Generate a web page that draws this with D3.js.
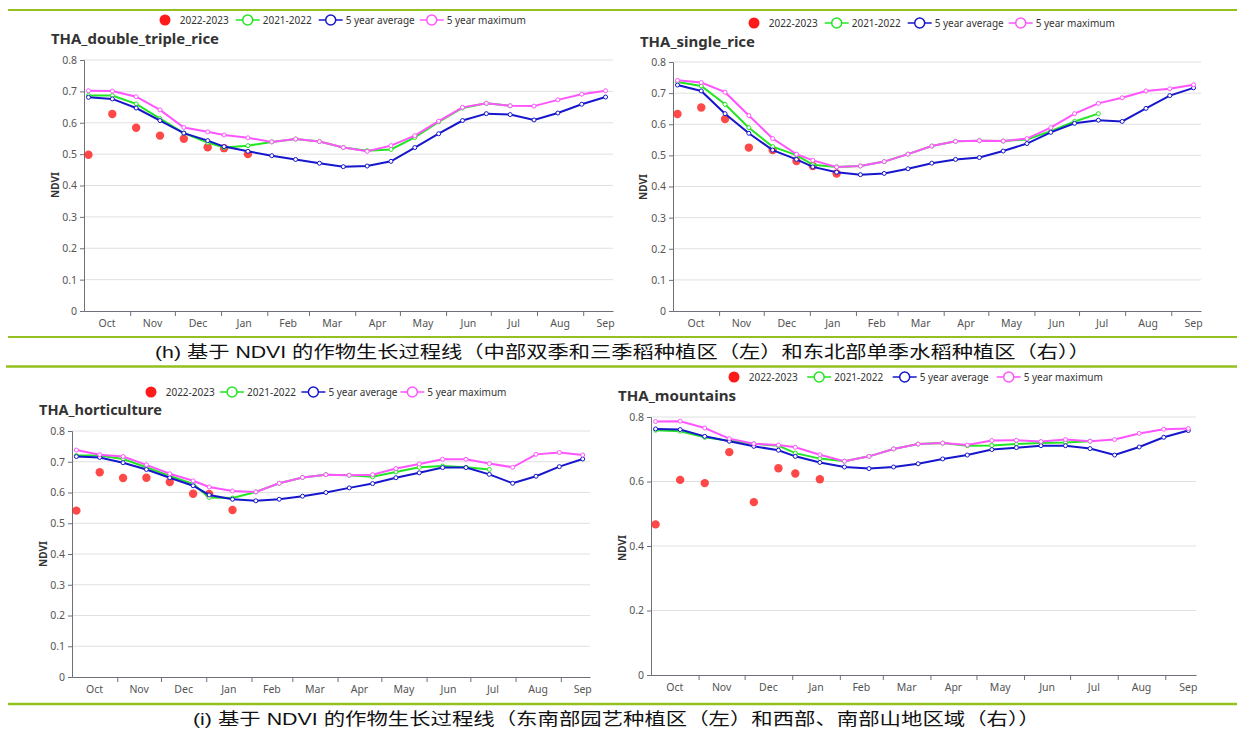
<!DOCTYPE html>
<html>
<head>
<meta charset="utf-8">
<script src="https://cdn.jsdelivr.net/npm/d3@7"></script>
<style>
  body { margin: 0; background: #fff; }
  svg { display: block; }
</style>
</head>
<body>
<div id="chart"></div>
<script>
// NDVI crop growth profiles, Thailand (4 zones)

const monthLabels = ["Oct", "Nov", "Dec", "Jan", "Feb", "Mar", "Apr", "May", "Jun", "Jul", "Aug", "Sep"];
const monthStarts = ["2022-10-01", "2022-11-01", "2022-12-01", "2023-01-01", "2023-02-01", "2023-03-01",
    "2023-04-01", "2023-05-01", "2023-06-01", "2023-07-01", "2023-08-01", "2023-09-01", "2023-10-01"];
const axisRange = ["2022-10-01", "2023-09-21"];

// 16-day composite dates
const dates = ["2022-10-04", "2022-10-20", "2022-11-05", "2022-11-21", "2022-12-07", "2022-12-23",
    "2023-01-03", "2023-01-19", "2023-02-04", "2023-02-20", "2023-03-08", "2023-03-24",
    "2023-04-09", "2023-04-25", "2023-05-11", "2023-05-27", "2023-06-12", "2023-06-28",
    "2023-07-14", "2023-07-30", "2023-08-15", "2023-08-31", "2023-09-16"];

const seriesNames = ["2022-2023", "2021-2022", "5 year average", "5 year maximum"];
const seriesColors = ["#ff1a1a", "#22e622", "#1616cc", "#ff55ff"];

// THA_double_triple_rice
const doubleCurrent = [0.498, 0.628, 0.584, 0.559, 0.549, 0.522, 0.519, 0.500];
const doublePrev = [0.687, 0.687, 0.660, 0.613, 0.567, 0.537, 0.521, 0.527, 0.539, 0.548, 0.540, 0.521,
    0.511, 0.515, 0.553, 0.603, 0.647, 0.662, 0.654];
const doubleAvg = [0.681, 0.676, 0.647, 0.607, 0.567, 0.543, 0.524, 0.509, 0.495, 0.483, 0.471, 0.460,
    0.462, 0.477, 0.521, 0.565, 0.607, 0.629, 0.626, 0.609, 0.631, 0.659, 0.682];
const doubleMax = [0.702, 0.701, 0.683, 0.641, 0.585, 0.571, 0.561, 0.552, 0.539, 0.548, 0.540, 0.521,
    0.509, 0.527, 0.559, 0.605, 0.649, 0.662, 0.654, 0.653, 0.673, 0.691, 0.702];

// THA_single_rice
const singleCurrent = [0.633, 0.654, 0.617, 0.525, 0.517, 0.482, 0.466, 0.442];
const singlePrev = [0.736, 0.723, 0.664, 0.589, 0.528, 0.501, 0.470, 0.463, 0.466, 0.480, 0.504, 0.530,
    0.545, 0.547, 0.546, 0.551, 0.578, 0.609, 0.634];
const singleAvg = [0.726, 0.707, 0.634, 0.571, 0.517, 0.487, 0.463, 0.446, 0.438, 0.442, 0.457, 0.475,
    0.487, 0.493, 0.514, 0.538, 0.574, 0.603, 0.613, 0.609, 0.651, 0.692, 0.717];
const singleMax = [0.741, 0.734, 0.703, 0.628, 0.554, 0.504, 0.484, 0.463, 0.466, 0.480, 0.504, 0.530,
    0.545, 0.547, 0.546, 0.554, 0.589, 0.634, 0.667, 0.685, 0.707, 0.714, 0.727];

// THA_horticulture
const hortiCurrent = [0.541, 0.666, 0.647, 0.648, 0.634, 0.596, 0.595, 0.543];
const hortiPrev = [0.720, 0.720, 0.709, 0.682, 0.654, 0.628, 0.584, 0.582, 0.602, 0.630, 0.649, 0.658,
    0.656, 0.651, 0.667, 0.682, 0.686, 0.682, 0.675];
const hortiAvg = [0.717, 0.714, 0.697, 0.675, 0.648, 0.622, 0.592, 0.578, 0.573, 0.578, 0.588, 0.600,
    0.615, 0.629, 0.648, 0.664, 0.681, 0.681, 0.659, 0.630, 0.653, 0.684, 0.709];
const hortiMax = [0.738, 0.723, 0.717, 0.690, 0.661, 0.638, 0.618, 0.605, 0.602, 0.630, 0.649, 0.658,
    0.656, 0.658, 0.678, 0.693, 0.708, 0.708, 0.694, 0.682, 0.724, 0.730, 0.722];

// THA_mountains
const mountCurrent = [0.467, 0.605, 0.595, 0.691, 0.536, 0.641, 0.625, 0.607];
const mountPrev = [0.759, 0.756, 0.737, 0.726, 0.717, 0.711, 0.688, 0.671, 0.663, 0.678, 0.701, 0.716,
    0.719, 0.711, 0.712, 0.716, 0.719, 0.721, 0.725];
const mountAvg = [0.763, 0.761, 0.740, 0.725, 0.709, 0.697, 0.678, 0.659, 0.645, 0.640, 0.645, 0.655,
    0.670, 0.682, 0.699, 0.705, 0.711, 0.711, 0.702, 0.682, 0.707, 0.737, 0.758];
const mountMax = [0.786, 0.787, 0.766, 0.733, 0.717, 0.713, 0.706, 0.683, 0.663, 0.678, 0.701, 0.716,
    0.719, 0.713, 0.727, 0.728, 0.724, 0.730, 0.725, 0.730, 0.749, 0.762, 0.764];

const ticksTenth = [0, 0.1, 0.2, 0.3, 0.4, 0.5, 0.6, 0.7, 0.8];
const ticksFifth = [0, 0.2, 0.4, 0.6, 0.8];

const captionTop = "(h) 基于 NDVI 的作物生长过程线（中部双季和三季稻种植区（左）和东北部单季水稻种植区（右））";
const captionBottom = "(i) 基于 NDVI 的作物生长过程线（东南部园艺种植区（左）和西部、南部山地区域（右））";

const W = 1237, H = 731;
const parse = d3.timeParse("%Y-%m-%d");
const font = "'Noto Sans', 'Open Sans', sans-serif";

const panels = [
    { title: "THA_double_triple_rice", values: [doubleCurrent, doublePrev, doubleAvg, doubleMax], yTicks: ticksTenth,
      left: 84, right: 613, top: 60, bottom: 311, titleX: 51, titleY: 38, titleW: 168,
      legendX: 165, legendY: 20, legendK: 1, nameX: 55, nameY: 185 },
    { title: "THA_single_rice", values: [singleCurrent, singlePrev, singleAvg, singleMax], yTicks: ticksTenth,
      left: 673, right: 1201, top: 62, bottom: 311, titleX: 640, titleY: 41, titleW: 115,
      legendX: 754, legendY: 23, legendK: 1, nameX: 643, nameY: 187 },
    { title: "THA_horticulture", values: [hortiCurrent, hortiPrev, hortiAvg, hortiMax], yTicks: ticksTenth,
      left: 72, right: 590, top: 431, bottom: 677, titleX: 39, titleY: 409, titleW: 123,
      legendX: 151, legendY: 392, legendK: 0.98, nameX: 43, nameY: 554 },
    { title: "THA_mountains", values: [mountCurrent, mountPrev, mountAvg, mountMax], yTicks: ticksFifth,
      left: 651, right: 1196, top: 417, bottom: 675, titleX: 618, titleY: 395, titleW: 118,
      legendX: 734, legendY: 377, legendK: 1.03, nameX: 622, nameY: 548 }
];

const svg = d3.select("#chart").append("svg")
    .attr("width", W)
    .attr("height", H)
    .style("background", "#fff");

// green separator rules
const ruleColor = "#94c11f";
[[8, 10, 2], [8, 337, 2], [6, 366.5, 2.5], [8, 704, 2.5]].forEach(([x0, yy, w]) => {
    svg.append("line")
        .attr("x1", x0).attr("x2", W)
        .attr("y1", yy).attr("y2", yy)
        .attr("stroke", ruleColor)
        .attr("stroke-width", w);
});

// captions
function caption(text, x0, x1, yy) {
    svg.append("text")
        .attr("x", x0)
        .attr("y", yy)
        .attr("dominant-baseline", "central")
        .attr("font-family", "'Liberation Sans', Arial, 'Noto Sans CJK SC', sans-serif")
        .attr("font-size", 17)
        .attr("fill", "#111")
        .attr("textLength", x1 - x0)
        .attr("lengthAdjust", "spacingAndGlyphs")
        .text(text);
}
caption(captionTop, 155, 1090, 352);
caption(captionBottom, 193, 1040, 719);

const legendOffsets = [0, 83, 166, 267];

function drawPanel(p) {
    const g = svg.append("g");

    const x = d3.scaleTime()
        .domain(axisRange.map(parse))
        .range([p.left, p.right]);
    const y = d3.scaleLinear()
        .domain([0, 0.8])
        .range([p.bottom, p.top]);

    // gridlines
    g.selectAll(".grid")
        .data(p.yTicks.filter(t => t > 0))
        .enter().append("line")
        .attr("x1", p.left).attr("x2", p.right)
        .attr("y1", d => y(d)).attr("y2", d => y(d))
        .attr("stroke", "#e0e0e0")
        .attr("stroke-width", 1);

    // y axis
    const yAxis = g.append("g")
        .attr("transform", `translate(${p.left},0)`)
        .call(d3.axisLeft(y)
            .tickValues(p.yTicks)
            .tickSize(4)
            .tickPadding(3)
            .tickFormat(d => d === 0 ? "0" : d3.format(".1f")(d)));
    yAxis.select(".domain").attr("stroke", "#6e7079");
    yAxis.selectAll(".tick line").attr("stroke", "#6e7079");
    yAxis.selectAll(".tick text")
        .attr("font-family", font)
        .attr("font-size", 10.5)
        .attr("fill", "#555");

    // x axis: ticks at month boundaries, labels mid-month
    const xAxis = g.append("g")
        .attr("transform", `translate(0,${p.bottom})`)
        .call(d3.axisBottom(x)
            .tickValues(monthStarts.slice(1, 12).map(parse))
            .tickSize(5)
            .tickSizeOuter(0)
            .tickFormat(""));
    xAxis.select(".domain").attr("stroke", "#6e7079");
    xAxis.selectAll(".tick line").attr("stroke", "#6e7079");

    g.selectAll(".month")
        .data(monthLabels)
        .enter().append("text")
        .attr("x", (d, i) => (x(parse(monthStarts[i])) + x(parse(monthStarts[i + 1]))) / 2)
        .attr("y", p.bottom + 12)
        .attr("text-anchor", "middle")
        .attr("dominant-baseline", "central")
        .attr("font-family", font)
        .attr("font-size", 10.5)
        .attr("fill", "#555")
        .text(d => d);

    // axis name
    g.append("text")
        .attr("transform", `translate(${p.nameX},${p.nameY}) rotate(-90)`)
        .attr("text-anchor", "middle")
        .attr("dominant-baseline", "central")
        .attr("font-family", font)
        .attr("font-size", 10)
        .attr("font-weight", 700)
        .attr("fill", "#333")
        .text("NDVI");

    // title
    g.append("text")
        .attr("x", p.titleX)
        .attr("y", p.titleY)
        .attr("dominant-baseline", "central")
        .attr("font-family", font)
        .attr("font-size", 15)
        .attr("font-weight", 700)
        .attr("fill", "#333")
        .attr("textLength", p.titleW)
        .attr("lengthAdjust", "spacingAndGlyphs")
        .text(p.title);

    // 2022-2023 scatter (drawn first, under the lines)
    g.selectAll(".cur")
        .data(p.values[0])
        .enter().append("circle")
        .attr("cx", (d, i) => x(parse(dates[i])))
        .attr("cy", d => y(d))
        .attr("r", 4.2)
        .attr("fill", seriesColors[0])
        .attr("fill-opacity", 0.8);

    const line = d3.line()
        .x(d => x(parse(d.date)))
        .y(d => y(d.v));

    [1, 2, 3].forEach(s => {
        const pts = p.values[s].map((v, i) => ({ date: dates[i], v }));
        g.append("path")
            .datum(pts)
            .attr("fill", "none")
            .attr("stroke", seriesColors[s])
            .attr("stroke-width", 2)
            .attr("d", line);
        g.selectAll(".sym" + s)
            .data(pts)
            .enter().append("circle")
            .attr("cx", d => x(parse(d.date)))
            .attr("cy", d => y(d.v))
            .attr("r", 2)
            .attr("fill", "#fff")
            .attr("stroke", seriesColors[s])
            .attr("stroke-width", 1);
    });

    // legend
    const lg = g.append("g");
    seriesNames.forEach((name, i) => {
        const tx = p.legendX + 14.7 + legendOffsets[i] * p.legendK;
        if (i === 0) {
            lg.append("circle")
                .attr("cx", tx - 14.7).attr("cy", p.legendY)
                .attr("r", 5.5)
                .attr("fill", seriesColors[0]);
        } else {
            lg.append("line")
                .attr("x1", tx - 27).attr("x2", tx - 3)
                .attr("y1", p.legendY).attr("y2", p.legendY)
                .attr("stroke", seriesColors[i])
                .attr("stroke-width", 1.5);
            lg.append("circle")
                .attr("cx", tx - 15).attr("cy", p.legendY)
                .attr("r", 5)
                .attr("fill", "#fff")
                .attr("stroke", seriesColors[i])
                .attr("stroke-width", 1.5);
        }
        lg.append("text")
            .attr("x", tx)
            .attr("y", p.legendY)
            .attr("dominant-baseline", "central")
            .attr("font-family", font)
            .attr("font-size", 10)
            .attr("fill", "#333")
            .text(name);
    });
}

panels.forEach(drawPanel);
</script>
</body>
</html>
